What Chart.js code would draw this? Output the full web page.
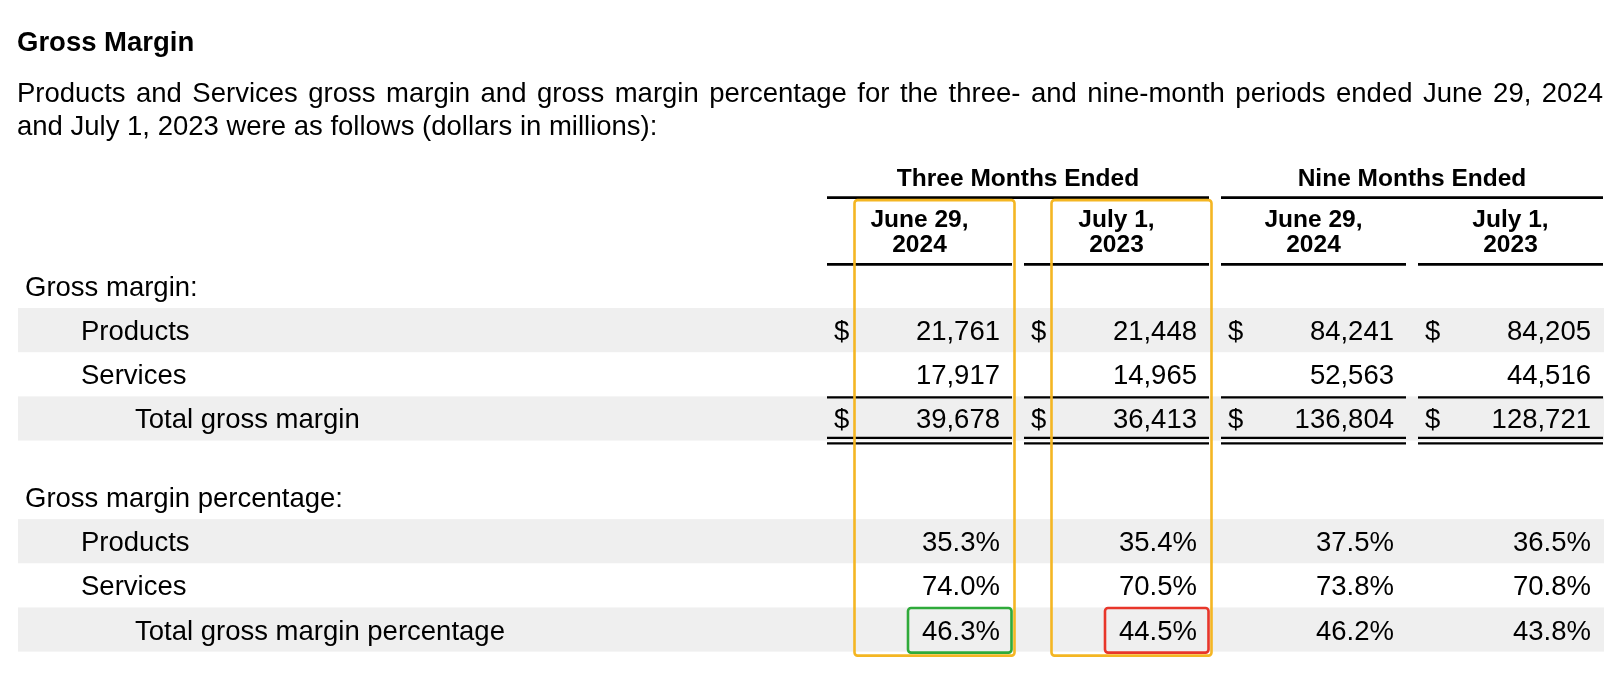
<!DOCTYPE html>
<html>
<head>
<meta charset="utf-8">
<script src="https://cdn.jsdelivr.net/npm/chart.js@4.4.1/dist/chart.umd.min.js"></script>
<style>
  body { margin: 0; background: #fff; }
  #page { position: relative; width: 1622px; height: 688px; overflow: hidden; }
  #page canvas { position: absolute; left: 0; top: 0; }
  .txt { position: absolute; left: 17px; font-family: "Liberation Sans", Arial, Helvetica, sans-serif;
         font-size: 27.5px; line-height: 33px; color: #000; white-space: nowrap; }
  #heading { top: 25px; font-weight: bold; }
  #line1 { top: 76px; width: 1586px; text-align: justify; text-align-last: justify; white-space: normal; }
  #line2 { top: 109px; }
</style>
</head>
<body>
<div id="page">
  <canvas id="marginTable" width="1622" height="688"></canvas>
  <div class="txt" id="heading">Gross Margin</div>
  <div class="txt" id="line1">Products and Services gross margin and gross margin percentage for the three- and nine-month periods ended June 29, 2024</div>
  <div class="txt" id="line2">and July 1, 2023 were as follows (dollars in millions):</div>
</div>
<script>
// column headers
const groups = ['Three Months Ended', 'Nine Months Ended'];
const periodDates = ['June 29,', 'July 1,', 'June 29,', 'July 1,'];
const periodYears = ['2024', '2023', '2024', '2023'];

// row labels
const rowLabels = [
    'Gross margin:', 'Products', 'Services', 'Total gross margin',
    'Gross margin percentage:', 'Products', 'Services', 'Total gross margin percentage'
];

// dollars in millions
const productsMargin = [21761, 21448, 84241, 84205];
const servicesMargin = [17917, 14965, 52563, 44516];
const totalMargin = [39678, 36413, 136804, 128721];

// percentages
const productsPct = [35.3, 35.4, 37.5, 36.5];
const servicesPct = [74.0, 70.5, 73.8, 70.8];
const totalPct = [46.3, 44.5, 46.2, 43.8];

const FONT = '"Liberation Sans", Arial, Helvetica, sans-serif';
const BAND = '#efefef';

const usd = v => v.toLocaleString('en-US');
const pct = v => v.toFixed(1) + '%';

const rowDefs = [
    { label: rowLabels[0], indent: 0 },
    { label: rowLabels[1], indent: 1, values: productsMargin, fmt: usd, dollar: true, shade: true },
    { label: rowLabels[2], indent: 1, values: servicesMargin, fmt: usd },
    { label: rowLabels[3], indent: 2, values: totalMargin, fmt: usd, dollar: true, shade: true, total: true },
    { gap: 0.78 },
    { label: rowLabels[4], indent: 0 },
    { label: rowLabels[5], indent: 1, values: productsPct, fmt: pct, shade: true },
    { label: rowLabels[6], indent: 1, values: servicesPct, fmt: pct },
    { label: rowLabels[7], indent: 2, values: totalPct, fmt: pct, shade: true, key: true }
];

// give every row a position on the y scale
let pos = 0;
const rows = [];
rowDefs.forEach(d => {
    if (d.gap) { pos += d.gap; return; }
    rows.push(Object.assign({ pos: pos }, d));
    pos += 1;
});
const valueRows = rows.filter(r => r.values);
const lastPos = rows[rows.length - 1].pos;

// the two quarters are boxed, and the total percentages marked up/down
const highlights = [
    { col: 0, color: '#f4b623' },
    { col: 1, color: '#f4b623' }
];
const marks = [
    { col: 0, color: '#2faa3a' },
    { col: 1, color: '#e8362a' }
];

const HALF = 92.5;        // half width of a column rule
const indentX = [25, 81, 135];

function line(ctx, x1, x2, y, w) {
    ctx.beginPath();
    ctx.lineWidth = w;
    ctx.strokeStyle = '#000';
    ctx.moveTo(x1, y);
    ctx.lineTo(x2, y);
    ctx.stroke();
}

function box(ctx, l, t, r, b, color) {
    ctx.save();
    ctx.strokeStyle = color;
    ctx.lineWidth = 2.6;
    ctx.beginPath();
    ctx.roundRect(l, t, r - l, b - t, 3);
    ctx.stroke();
    ctx.restore();
}

const tablePlugin = {
    id: 'tablePlugin',
    beforeDatasetsDraw(chart) {
        const ctx = chart.ctx;
        const xs = chart.scales.x, ys = chart.scales.y;
        const rowH = Math.abs(ys.getPixelForValue(1) - ys.getPixelForValue(0));
        const right = xs.getPixelForValue(3) + HALF + 1;
        ctx.save();

        // shaded rows
        ctx.fillStyle = BAND;
        rows.filter(r => r.shade).forEach(r => {
            const cy = ys.getPixelForValue(r.pos);
            ctx.fillRect(18, cy - rowH / 2, right - 18, rowH);
        });

        // row labels
        ctx.fillStyle = '#000';
        ctx.textBaseline = 'alphabetic';
        ctx.font = '27.5px ' + FONT;
        ctx.textAlign = 'left';
        rows.forEach(r => {
            ctx.fillText(r.label, indentX[r.indent], ys.getPixelForValue(r.pos) + 10);
        });

        // header
        const headRule = ys.getPixelForValue(-0.5) + 0.5;
        const groupRule = ys.getPixelForValue(-2);
        ctx.font = 'bold 24.5px ' + FONT;
        ctx.textAlign = 'center';
        groups.forEach((g, i) => {
            const l = xs.getPixelForValue(i * 2) - HALF;
            const r = xs.getPixelForValue(i * 2 + 1) + HALF;
            ctx.fillText(g, (l + r) / 2, groupRule - 12);
            line(ctx, l, r, groupRule, 2.6);
        });
        periodDates.forEach((d, c) => {
            const cx = xs.getPixelForValue(c);
            ctx.fillText(d, cx, headRule - 37.5);
            ctx.fillText(periodYears[c], cx, headRule - 12.5);
            line(ctx, cx - HALF, cx + HALF, headRule, 2.8);
        });

        // total rules
        rows.filter(r => r.total).forEach(r => {
            const cy = ys.getPixelForValue(r.pos);
            periodDates.forEach((d, c) => {
                const cx = xs.getPixelForValue(c);
                line(ctx, cx - HALF, cx + HALF, cy - rowH / 2 + 1, 2.2);
                line(ctx, cx - HALF, cx + HALF, cy + rowH / 2 - 2.6, 2.2);
                line(ctx, cx - HALF, cx + HALF, cy + rowH / 2 + 2.8, 2.2);
            });
        });
        ctx.restore();
    },
    afterDatasetsDraw(chart) {
        const ctx = chart.ctx;
        const xs = chart.scales.x, ys = chart.scales.y;
        const rowH = Math.abs(ys.getPixelForValue(1) - ys.getPixelForValue(0));
        ctx.save();
        ctx.fillStyle = '#000';
        ctx.font = '27.5px ' + FONT;
        ctx.textBaseline = 'alphabetic';

        // cell values, placed at the points of each dataset
        chart.data.datasets.forEach((ds, c) => {
            chart.getDatasetMeta(c).data.forEach((pt, j) => {
                const cell = ds.data[j];
                const y = pt.y + 10;
                ctx.textAlign = 'right';
                ctx.fillText(cell.text, pt.x + HALF - 12, y);
                if (cell.dollar) {
                    ctx.textAlign = 'left';
                    ctx.fillText('$', pt.x - HALF + 7, y);
                }
            });
        });

        // annotation boxes
        const top = ys.getPixelForValue(-2) + 2.5;
        const bottom = ys.getPixelForValue(lastPos) + rowH / 2 + 4;
        highlights.forEach(h => {
            const cx = xs.getPixelForValue(h.col);
            box(ctx, cx - 65, top, cx + 95, bottom, h.color);
        });
        const keyRow = rows.find(r => r.key);
        marks.forEach(m => {
            const cx = xs.getPixelForValue(m.col);
            const cy = ys.getPixelForValue(keyRow.pos);
            box(ctx, cx - 11.5, cy - rowH / 2 + 0.5, cx + 92, cy + rowH / 2 + 1, m.color);
        });
        ctx.restore();
    }
};

const ctx = document.getElementById('marginTable').getContext('2d');
new Chart(ctx, {
    type: 'scatter',
    data: {
        datasets: periodDates.map((d, c) => ({
            label: d + ' ' + periodYears[c],
            data: valueRows.map(r => ({
                x: c,
                y: r.pos,
                text: r.fmt(r.values[c]),
                dollar: !!r.dollar
            })),
            pointRadius: 0,
            pointHoverRadius: 0
        }))
    },
    options: {
        responsive: false,
        animation: false,
        layout: {
            padding: { left: 821, right: 13, top: 153.5, bottom: 36.4 }
        },
        scales: {
            x: { type: 'linear', min: -0.5, max: 3.5, display: false },
            y: { type: 'linear', min: -3, max: lastPos + 0.5, reverse: true, display: false }
        },
        plugins: {
            legend: { display: false },
            tooltip: { enabled: false }
        }
    },
    plugins: [tablePlugin]
});
</script>
</body>
</html>
